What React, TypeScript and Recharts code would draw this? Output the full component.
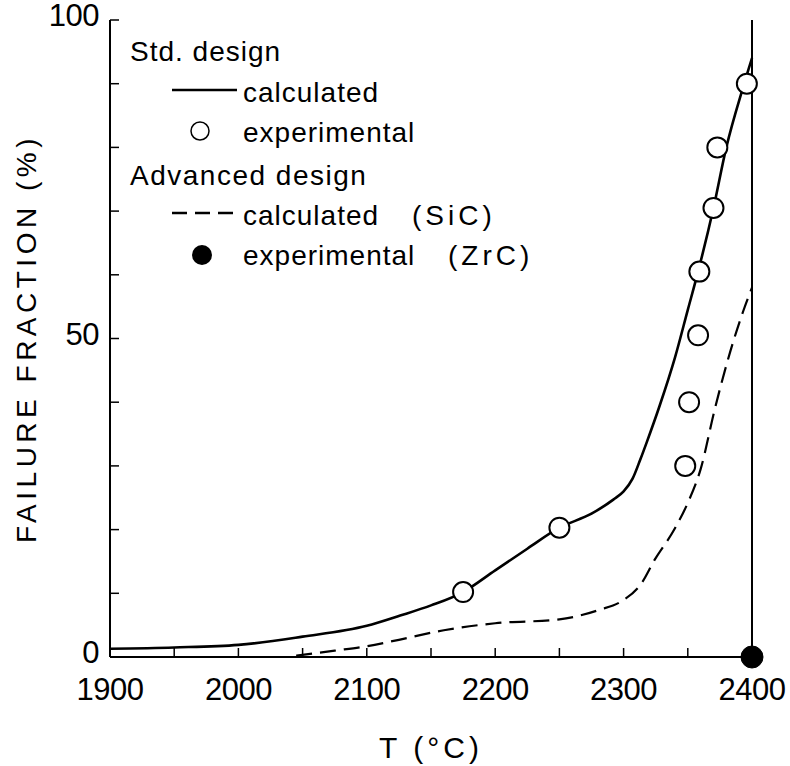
import { ComposedChart, Line, Scatter, XAxis, YAxis, Legend } from 'recharts';

// Std. design, calculated (solid)
const stdCalculated = [
  { t: 1900, v: 1.3 }, { t: 1950, v: 1.5 }, { t: 2000, v: 1.9 }, { t: 2050, v: 3.2 },
  { t: 2100, v: 4.9 }, { t: 2126, v: 6.5 }, { t: 2150, v: 8.1 }, { t: 2175, v: 10.2 },
  { t: 2200, v: 13.6 }, { t: 2225, v: 17.0 }, { t: 2250, v: 20.3 }, { t: 2275, v: 22.5 },
  { t: 2292, v: 24.7 }, { t: 2300, v: 26.0 }, { t: 2307, v: 28.0 }, { t: 2313, v: 31.0 },
  { t: 2318, v: 33.7 }, { t: 2328, v: 39.4 }, { t: 2340, v: 47.0 }, { t: 2350, v: 54.5 },
  { t: 2358, v: 60.5 }, { t: 2370, v: 70.5 }, { t: 2380, v: 80.0 }, { t: 2393, v: 89.4 },
  { t: 2400, v: 94.0 },
];

// Std. design, experimental (open circles)
const stdExperimental = [
  { t: 2175, v: 10.2 }, { t: 2250, v: 20.3 }, { t: 2348, v: 30 }, { t: 2351, v: 40 },
  { t: 2358, v: 50.5 }, { t: 2359, v: 60.5 }, { t: 2370, v: 70.5 }, { t: 2373, v: 80 },
  { t: 2396, v: 90 },
];

// Advanced design, calculated (SiC) (dashed)
const advCalculated = [
  { t: 2045, v: 0.2 }, { t: 2075, v: 1.0 }, { t: 2100, v: 1.7 }, { t: 2125, v: 2.7 },
  { t: 2160, v: 4.2 }, { t: 2200, v: 5.3 }, { t: 2250, v: 5.9 }, { t: 2281, v: 7.4 },
  { t: 2298, v: 8.7 }, { t: 2314, v: 11.6 }, { t: 2324, v: 15.2 }, { t: 2340, v: 20.2 },
  { t: 2350, v: 24.2 }, { t: 2360, v: 29.5 }, { t: 2371, v: 38.9 }, { t: 2383, v: 47.9 },
  { t: 2393, v: 54.2 }, { t: 2400, v: 58.0 },
];

// Advanced design, experimental (ZrC) (filled circle)
const advExperimental = [{ t: 2400, v: 0 }];

const xTicks = [1900, 1950, 2000, 2050, 2100, 2150, 2200, 2250, 2300, 2350, 2400];
const yTicks = [0, 10, 20, 30, 40, 50, 60, 70, 80, 90, 100];

const FONT = '"Liberation Sans", Arial, sans-serif';
const TICK = 9;

const BottomTick = ({ x, y, payload }: any) => (
  <g>
    <line x1={x} x2={x} y1={y} y2={y - TICK} stroke="#000" strokeWidth={1.5} />
    {payload.value % 100 === 0 && (
      <text x={x} y={y + 43} textAnchor="middle" fontSize={31} fontFamily={FONT} fill="#000" letterSpacing={-0.5}>
        {payload.value}
      </text>
    )}
  </g>
);

const TopTick = ({ x, y }: any) => (
  <line x1={x} x2={x} y1={y} y2={y + TICK} stroke="#000" strokeWidth={1.5} />
);

const LeftTick = ({ x, y, payload }: any) => (
  <g>
    <line x1={x} x2={x + TICK} y1={y} y2={y} stroke="#000" strokeWidth={1.5} />
    {payload.value % 50 === 0 && (
      <text x={x - 11} y={y + 6} textAnchor="end" fontSize={31} fontFamily={FONT} fill="#000" letterSpacing={-0.5}>
        {payload.value}
      </text>
    )}
  </g>
);

const RightTick = ({ x, y }: any) => (
  <line x1={x} x2={x - TICK} y1={y} y2={y} stroke="#000" strokeWidth={1.5} />
);

const OpenCircle = (props: any) => (
  <circle cx={props.cx} cy={props.cy} r={10} fill="#fff" stroke="#000" strokeWidth={2} />
);

const FilledCircle = (props: any) => (
  <circle cx={props.cx} cy={props.cy} r={11} fill="#000" stroke="#000" strokeWidth={1} />
);

const LegendBox = () => (
  <svg width={560} height={290} style={{ display: 'block' }}>
    <g fontFamily={FONT} fontSize={28} fill="#000" letterSpacing={1}>
      <text x={130} y={61}>Std. design</text>
      <line x1={172} x2={237} y1={90} y2={90} stroke="#000" strokeWidth={2.5} />
      <text x={243} y={102}>calculated</text>
      <circle cx={200} cy={131} r={9} fill="#fff" stroke="#000" strokeWidth={1.5} />
      <text x={243} y={142}>experimental</text>
      <text x={130} y={185} letterSpacing={1.5}>Advanced design</text>
      <line x1={172} x2={237} y1={213} y2={213} stroke="#000" strokeWidth={2.5} strokeDasharray="15 8" />
      <text x={243} y={225}>
        calculated
        <tspan x={412} letterSpacing={4}>(SiC)</tspan>
      </text>
      <circle cx={202} cy={255} r={10} fill="#000" />
      <text x={243} y={265}>
        experimental
        <tspan x={448} letterSpacing={4}>(ZrC)</tspan>
      </text>
    </g>
  </svg>
);

export default function App() {
  return (
    <div style={{ position: 'absolute', left: 0, top: 0, background: '#fff' }}>
      <ComposedChart
        width={790}
        height={766}
        margin={{ top: 20, right: 0, bottom: 0, left: 0 }}
        style={{ fontFamily: FONT }}
      >
        <XAxis
          dataKey="t"
          type="number"
          domain={[1900, 2400]}
          ticks={xTicks}
          interval={0}
          height={109}
          tickSize={0}
          tickMargin={0}
          tickLine={false}
          tick={<BottomTick />}
          axisLine={{ stroke: '#000', strokeWidth: 2 }}
          label={{ value: 'T (°C)', position: 'insideBottom', offset: 8, fontSize: 30, fill: '#000', letterSpacing: 4, fontFamily: FONT }}
        />
        <XAxis
          xAxisId="top"
          orientation="top"
          dataKey="t"
          type="number"
          domain={[1900, 2400]}
          ticks={xTicks}
          interval={0}
          height={0}
          tickSize={0}
          tickMargin={0}
          tickLine={false}
          tick={<TopTick />}
          axisLine={{ stroke: '#000', strokeWidth: 2 }}
        />
        <YAxis
          dataKey="v"
          type="number"
          domain={[0, 100]}
          ticks={yTicks}
          interval={0}
          width={110}
          tickSize={0}
          tickMargin={0}
          tickLine={false}
          tick={<LeftTick />}
          axisLine={{ stroke: '#000', strokeWidth: 2 }}
          label={{
            value: 'FAILURE FRACTION (%)',
            angle: -90,
            position: 'insideLeft',
            offset: 26,
            fontSize: 28,
            fill: '#000',
            letterSpacing: 4.5,
            fontFamily: FONT,
            style: { textAnchor: 'middle' },
          }}
        />
        <YAxis
          yAxisId="right"
          orientation="right"
          type="number"
          domain={[0, 100]}
          ticks={yTicks}
          interval={0}
          width={38}
          tickSize={0}
          tickMargin={0}
          tickLine={false}
          tick={<RightTick />}
          axisLine={{ stroke: '#000', strokeWidth: 2 }}
        />
        <Legend
          layout="horizontal"
          verticalAlign="middle"
          align="center"
          content={<LegendBox />}
          wrapperStyle={{ left: 0, top: 0, width: 560, height: 290 }}
        />
        <Line
          data={advCalculated}
          dataKey="v"
          type="monotone"
          stroke="#000"
          strokeWidth={2.2}
          strokeDasharray="16 8"
          dot={false}
          isAnimationActive={false}
        />
        <Line
          data={stdCalculated}
          dataKey="v"
          type="monotone"
          stroke="#000"
          strokeWidth={2.6}
          dot={false}
          isAnimationActive={false}
        />
        <Scatter data={stdExperimental} dataKey="v" shape={<OpenCircle />} isAnimationActive={false} />
        <Scatter data={advExperimental} dataKey="v" shape={<FilledCircle />} isAnimationActive={false} />
      </ComposedChart>
    </div>
  );
}
